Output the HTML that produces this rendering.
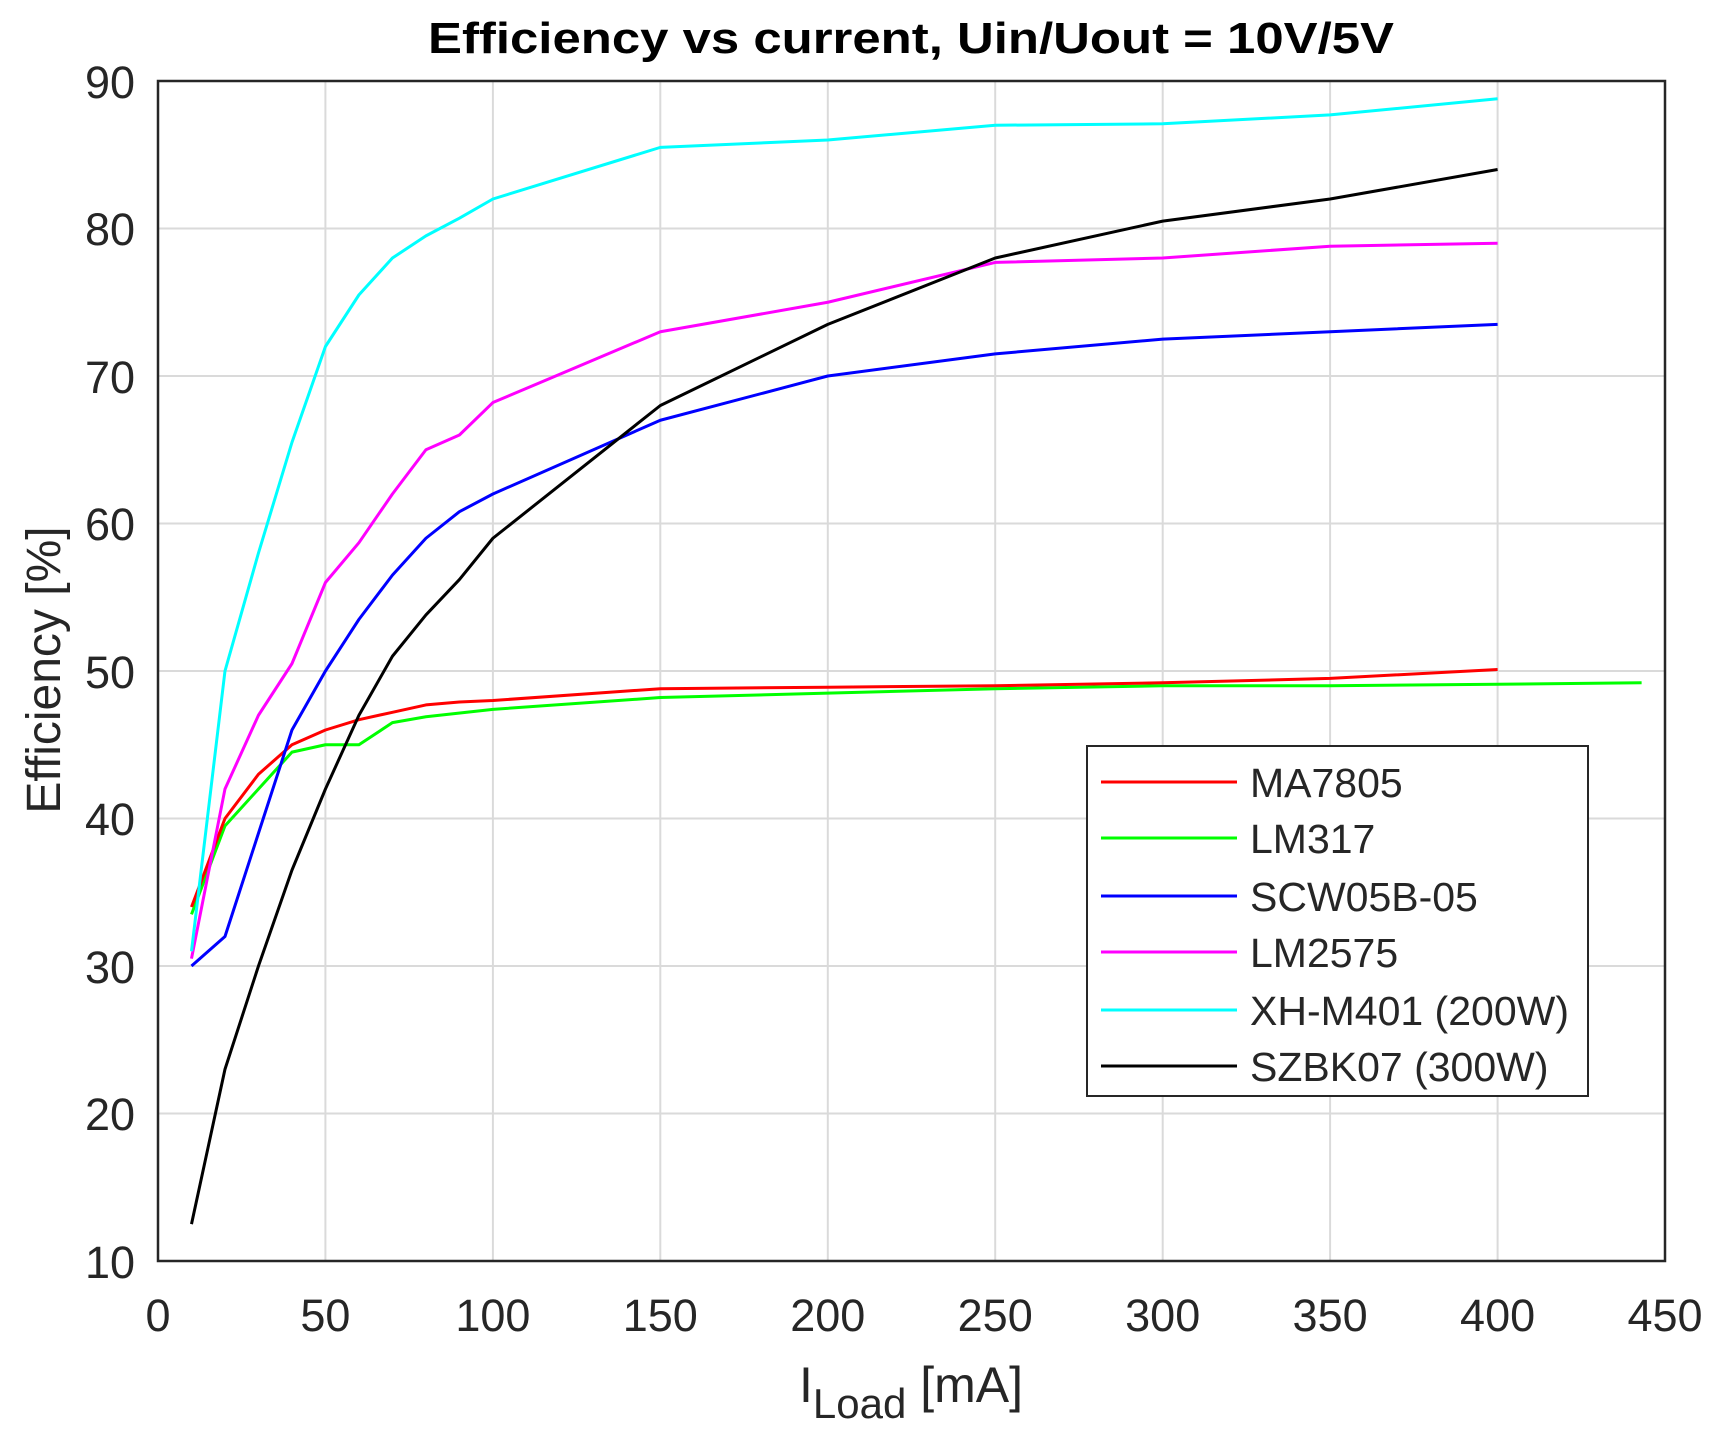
<!DOCTYPE html>
<html><head><meta charset="utf-8"><style>html,body{margin:0;padding:0;background:#fff}</style></head>
<body>
<svg width="1722" height="1446" viewBox="0 0 1722 1446" xmlns="http://www.w3.org/2000/svg" font-family="'Liberation Sans', sans-serif">
<rect width="1722" height="1446" fill="#fff"/>
<g stroke="#dadada" stroke-width="2">
<line x1="325.4" y1="81" x2="325.4" y2="1261"/><line x1="492.9" y1="81" x2="492.9" y2="1261"/>
<line x1="660.3" y1="81" x2="660.3" y2="1261"/><line x1="827.8" y1="81" x2="827.8" y2="1261"/>
<line x1="995.2" y1="81" x2="995.2" y2="1261"/><line x1="1162.7" y1="81" x2="1162.7" y2="1261"/>
<line x1="1330.1" y1="81" x2="1330.1" y2="1261"/><line x1="1497.6" y1="81" x2="1497.6" y2="1261"/>
<line x1="158" y1="228.5" x2="1665" y2="228.5"/><line x1="158" y1="376" x2="1665" y2="376"/>
<line x1="158" y1="523.5" x2="1665" y2="523.5"/><line x1="158" y1="671" x2="1665" y2="671"/>
<line x1="158" y1="818.5" x2="1665" y2="818.5"/><line x1="158" y1="966" x2="1665" y2="966"/>
<line x1="158" y1="1113.5" x2="1665" y2="1113.5"/>
</g>
<g transform="matrix(3.349 0 0 -14.75 158 1408.5)" fill="none" stroke-width="3" stroke-linejoin="round">
<polyline vector-effect="non-scaling-stroke" stroke="#00ff00" points="10,33.5 20,39.5 30,42 40,44.5 50,45 60,45 70,46.5 80,46.9 100,47.4 150,48.2 200,48.5 250,48.8 300,49 350,49 400,49.1 443,49.2"/>
<polyline vector-effect="non-scaling-stroke" stroke="#ff0000" points="10,34 20,40 30,43 40,45 50,46 60,46.7 70,47.2 80,47.7 90,47.9 100,48 150,48.8 200,48.9 250,49 300,49.2 350,49.5 400,50.1"/>
<polyline vector-effect="non-scaling-stroke" stroke="#0000ff" points="10,30 20,32 30,39 40,46 50,50 60,53.5 70,56.5 80,59 90,60.8 100,62 150,67 200,70 250,71.5 300,72.5 350,73 400,73.5"/>
<polyline vector-effect="non-scaling-stroke" stroke="#ff00ff" points="10,30.5 20,42 30,47 40,50.5 50,56 60,58.7 70,62 80,65 90,66 100,68.2 150,73 200,75 250,77.7 300,78 350,78.8 400,79"/>
<polyline vector-effect="non-scaling-stroke" stroke="#00ffff" points="10,31 20,50 30,58 40,65.5 50,72 60,75.5 70,78 80,79.5 90,80.7 100,82 150,85.5 200,86 250,87 300,87.1 350,87.7 400,88.8"/>
<polyline vector-effect="non-scaling-stroke" stroke="#000000" points="10,12.5 20,23 30,30 40,36.5 50,42 60,47 70,51 80,53.8 90,56.2 100,59 150,68 200,73.5 250,78 300,80.5 350,82 400,84"/>
</g>
<rect x="158" y="81" width="1507" height="1180" fill="none" stroke="#262626" stroke-width="2.5"/>
<g fill="#262626" font-size="45" text-anchor="end">
<text x="135" y="98">90</text><text x="135" y="245">80</text><text x="135" y="393">70</text>
<text x="135" y="540">60</text><text x="135" y="688">50</text><text x="135" y="835">40</text>
<text x="135" y="983">30</text><text x="135" y="1130">20</text><text x="135" y="1278">10</text>
</g>
<g fill="#262626" font-size="45" text-anchor="middle">
<text x="158" y="1331">0</text><text x="325.4" y="1331">50</text><text x="492.9" y="1331">100</text>
<text x="660.3" y="1331">150</text><text x="827.8" y="1331">200</text><text x="995.2" y="1331">250</text>
<text x="1162.7" y="1331">300</text><text x="1330.1" y="1331">350</text><text x="1497.6" y="1331">400</text>
<text x="1665" y="1331">450</text>
</g>
<text x="428" y="53" font-size="44" font-weight="bold" fill="#000" textLength="966" lengthAdjust="spacingAndGlyphs">Efficiency vs current, Uin/Uout = 10V/5V</text>
<text transform="translate(60,670) rotate(-90)" font-size="48" text-anchor="middle" fill="#262626">Efficiency [%]</text>
<text x="911" y="1402" font-size="50" text-anchor="middle" fill="#262626">I<tspan font-size="42" dy="16">Load</tspan><tspan dy="-16"> [mA]</tspan></text>
<rect x="1087" y="746" width="501" height="350" fill="#fff" stroke="#262626" stroke-width="2"/>
<g stroke-width="3">
<line x1="1101" y1="782" x2="1237" y2="782" stroke="#ff0000"/>
<line x1="1101" y1="838" x2="1237" y2="838" stroke="#00ff00"/>
<line x1="1101" y1="896" x2="1237" y2="896" stroke="#0000ff"/>
<line x1="1101" y1="952" x2="1237" y2="952" stroke="#ff00ff"/>
<line x1="1101" y1="1010" x2="1237" y2="1010" stroke="#00ffff"/>
<line x1="1101" y1="1066" x2="1237" y2="1066" stroke="#000000"/>
</g>
<g font-size="41" fill="#262626">
<text x="1250" y="797">MA7805</text><text x="1250" y="853">LM317</text>
<text x="1250" y="911">SCW05B-05</text><text x="1250" y="967">LM2575</text>
<text x="1250" y="1025">XH-M401 (200W)</text><text x="1250" y="1081">SZBK07 (300W)</text>
</g>
</svg>
</body></html>
